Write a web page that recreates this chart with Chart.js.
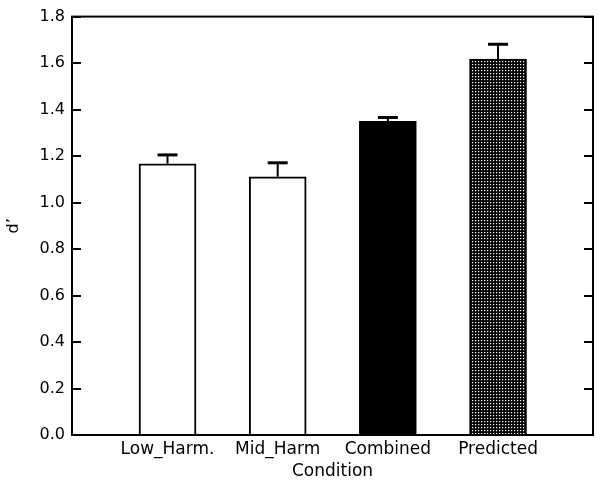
<!DOCTYPE html>
<html>
<head>
<meta charset="utf-8">
<script src="https://cdn.jsdelivr.net/npm/chart.js@4.4.0/dist/chart.umd.min.js"></script>
<style>
  html, body { margin: 0; padding: 0; background: #fff; }
  #wrap { width: 601px; height: 483px; }
</style>
</head>
<body>
<div id="wrap"><canvas id="chart" width="601" height="483"></canvas></div>
<script>
// Data
const categories = ["Low_Harm.", "Mid_Harm", "Combined", "Predicted"];
const positions = [1, 2, 3, 4];
const dPrime = [1.167, 1.111, 1.349, 1.617];
const errUp = [0.038, 0.060, 0.017, 0.064];

// dotted fill for the "Predicted" bar
function makePattern() {
  const c = document.createElement("canvas");
  c.width = 3;
  c.height = 3;
  const g = c.getContext("2d");
  g.fillStyle = "#000";
  g.fillRect(0, 0, 3, 3);
  g.fillStyle = "#fff";
  g.fillRect(1, 1, 1, 1);
  g.fillStyle = "#404040";
  g.fillRect(2, 1, 1, 1);
  g.fillRect(1, 2, 1, 1);
  return g.createPattern(c, "repeat");
}

const fills = ["#fff", "#fff", "#000", makePattern()];

// frame around plot + inward ticks on left and right
const frame = {
  id: "frame",
  afterDraw(chart) {
    const { ctx, chartArea: a, scales: { y } } = chart;
    ctx.save();
    ctx.strokeStyle = "#000";
    ctx.lineWidth = 2;
    ctx.strokeRect(a.left, a.top, a.right - a.left, a.bottom - a.top);
    ctx.beginPath();
    y.ticks.forEach((t) => {
      const py = Math.round(y.getPixelForValue(t.value));
      ctx.moveTo(a.left, py);
      ctx.lineTo(a.left + 9, py);
      ctx.moveTo(a.right, py);
      ctx.lineTo(a.right - 9, py);
    });
    ctx.stroke();
    ctx.restore();
  },
};

// upper error bars only
const errorBars = {
  id: "errorBars",
  afterDatasetsDraw(chart) {
    const { ctx, scales: { x, y } } = chart;
    ctx.save();
    ctx.strokeStyle = "#000";
    positions.forEach((p, i) => {
      const px = x.getPixelForValue(p);
      const y0 = y.getPixelForValue(dPrime[i]);
      const y1 = y.getPixelForValue(dPrime[i] + errUp[i]);
      ctx.lineWidth = 2;
      ctx.beginPath();
      ctx.moveTo(px, y0);
      ctx.lineTo(px, y1);
      ctx.stroke();
      ctx.lineWidth = 3;
      ctx.beginPath();
      ctx.moveTo(px - 10, y1);
      ctx.lineTo(px + 10, y1);
      ctx.stroke();
    });
    ctx.restore();
  },
};

const font = { family: "'DejaVu Sans', sans-serif", size: 17 };
const yFont = { family: "'DejaVu Sans', sans-serif", size: 16 };

new Chart(document.getElementById("chart"), {
  type: "bar",
  data: {
    datasets: [
      {
        data: positions.map((p, i) => ({ x: p, y: dPrime[i] })),
        backgroundColor: fills,
        borderColor: "#000",
        borderWidth: 2,
        barThickness: 57,
      },
    ],
  },
  options: {
    responsive: false,
    animation: false,
    layout: { padding: { top: 12, right: 8, left: 0, bottom: 0 } },
    plugins: { legend: { display: false }, tooltip: { enabled: false } },
    scales: {
      x: {
        type: "linear",
        offset: false,
        min: 0.133,
        max: 4.862,
        afterBuildTicks: (s) => {
          s.ticks = positions.map((v) => ({ value: v }));
        },
        afterFit: (s) => {
          s.height = 48;
        },
        grid: { display: false, drawTicks: false, offset: false },
        border: { display: false },
        ticks: {
          autoSkip: false,
          maxRotation: 0,
          padding: 4,
          color: "#000",
          font,
          callback: (v) => categories[positions.indexOf(v)],
        },
        title: { display: true, text: "Condition", color: "#000", font, padding: { top: 0, bottom: 1 } },
      },
      y: {
        min: 0,
        max: 1.8,
        afterFit: (s) => {
          s.width = 72;
        },
        grid: { display: false, drawTicks: false },
        border: { display: false },
        ticks: {
          stepSize: 0.2,
          padding: 7,
          color: "#000",
          font: yFont,
          callback: (v) => v.toFixed(1),
        },
        title: { display: true, text: "d’", color: "#000", font: yFont },
      },
    },
  },
  plugins: [errorBars, frame],
});
</script>
</body>
</html>
